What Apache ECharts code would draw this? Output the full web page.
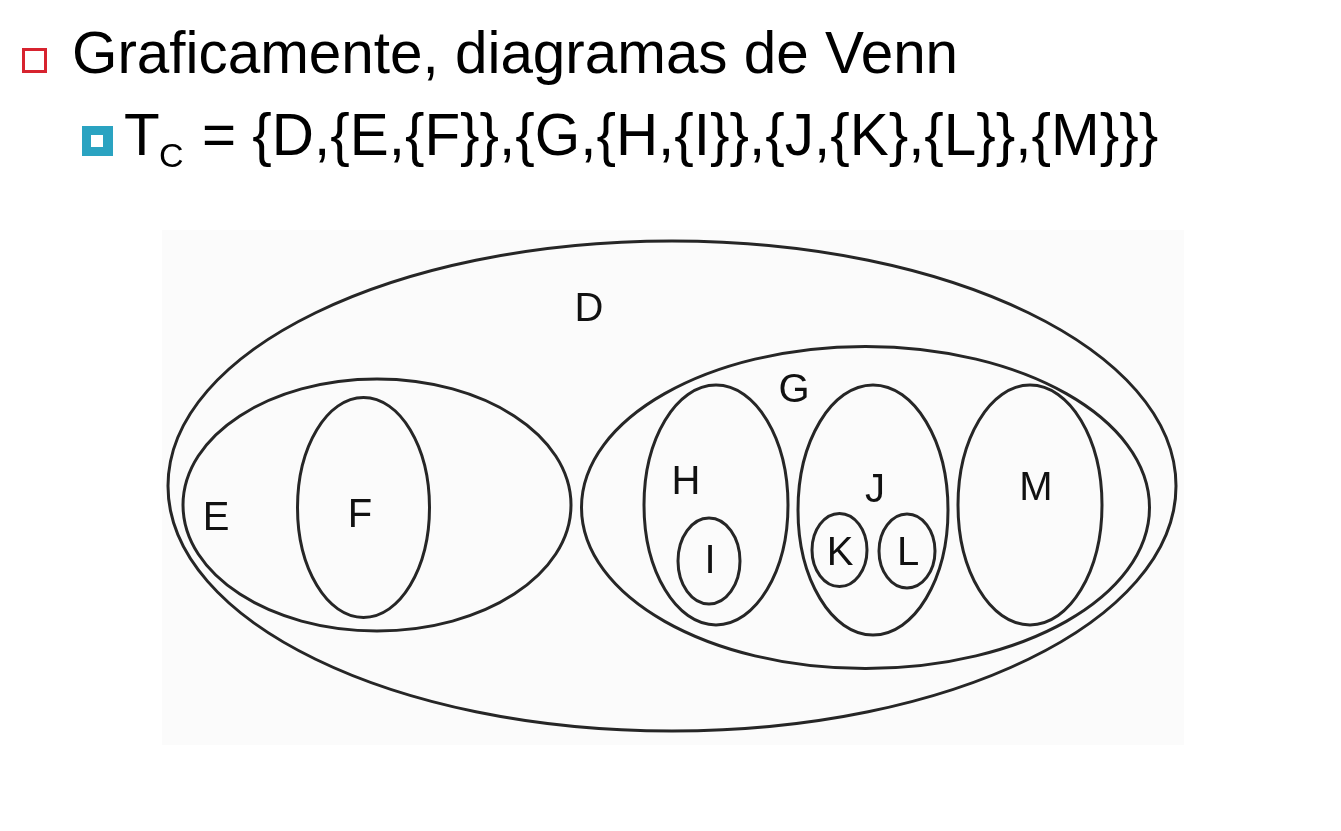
<!DOCTYPE html>
<html>
<head>
<meta charset="utf-8">
<title>Diagramas de Venn</title>
<script src="https://cdn.jsdelivr.net/npm/echarts@6/dist/echarts.min.js"></script>
<style>
  html, body { margin: 0; padding: 0; background: #fff; }
  #main { width: 1341px; height: 831px; }
</style>
</head>
<body>
<div id="main"></div>
<script>
// conjuntos del diagrama, en unidades del recuadro (0..1022 x 0..515)
var setNames = ['D', 'E', 'F', 'G', 'H', 'I', 'J', 'K', 'L', 'M'];
var centerX = [510, 215, 201.5, 703.5, 554, 547, 711, 677.5, 745, 868];
var centerY = [256, 275, 277.5, 277.5, 275, 331, 280, 320, 321, 275];
var radiusX = [504, 194, 66, 284, 72, 31, 75, 27.5, 28, 72];
var radiusY = [245, 126, 110, 161, 120, 43, 125, 36.5, 37, 120];
var labelX = [427, 54, 198, 632, 524, 548, 713, 678, 746, 874];
var labelY = [80, 289, 286, 161, 253, 332, 261, 324, 324, 259];

var font = '"Liberation Sans", Arial, Helvetica, sans-serif';

var seriesData = [];
for (var i = 0; i < setNames.length; i++) {
    seriesData.push({
        name: setNames[i],
        value: [centerX[i], centerY[i], radiusX[i] * 2, radiusY[i] * 2, labelX[i], labelY[i]]
    });
}

var chart = echarts.init(document.getElementById('main'));

var option = {
    animation: false,
    grid: {
        left: 162,
        top: 230,
        width: 1022,
        height: 515,
        show: true,
        backgroundColor: '#fbfbfb',
        borderWidth: 0
    },
    xAxis: { type: 'value', min: 0, max: 1022, show: false },
    yAxis: { type: 'value', min: 0, max: 515, inverse: true, show: false },
    graphic: [
        // viñeta roja
        { type: 'rect', shape: { x: 23.5, y: 49.5, width: 22, height: 22 },
          style: { fill: 'none', stroke: '#d7232f', lineWidth: 3 } },
        { type: 'text', x: 72, y: 57,
          style: { text: 'Graficamente, diagramas de Venn', fontSize: 58.4, fontFamily: font,
                   fill: '#000', verticalAlign: 'middle' } },
        // viñeta azul
        { type: 'rect', shape: { x: 82, y: 126, width: 31, height: 30 }, style: { fill: '#2aa3c1' } },
        { type: 'rect', shape: { x: 91, y: 135, width: 12, height: 12 }, style: { fill: '#fff' } },
        { type: 'text', x: 124, y: 139,
          style: { text: 'T', fontSize: 58.4, fontFamily: font, fill: '#000', verticalAlign: 'middle' } },
        { type: 'text', x: 159, y: 158,
          style: { text: 'C', fontSize: 34, fontFamily: font, fill: '#000', verticalAlign: 'middle' } },
        { type: 'text', x: 202, y: 139,
          style: { text: '= {D,{E,{F}},{G,{H,{I}},{J,{K},{L}},{M}}}', fontSize: 58.4, fontFamily: font,
                   fill: '#000', verticalAlign: 'middle' } }
    ],
    series: [{
        type: 'custom',
        silent: true,
        coordinateSystem: 'cartesian2d',
        encode: { x: 0, y: 1 },
        data: seriesData,
        renderItem: function (params, api) {
            var c = api.coord([api.value(0), api.value(1)]);
            var s = api.size([api.value(2), api.value(3)]);
            var t = api.coord([api.value(4), api.value(5)]);
            return {
                type: 'group',
                children: [
                    {
                        type: 'ellipse',
                        shape: { cx: c[0], cy: c[1], rx: s[0] / 2, ry: s[1] / 2 },
                        style: { fill: 'none', stroke: '#262626', lineWidth: 3 }
                    },
                    {
                        type: 'text',
                        x: t[0],
                        y: t[1],
                        style: {
                            text: setNames[params.dataIndex],
                            fontSize: 40,
                            fontFamily: font,
                            fill: '#111',
                            align: 'center',
                            verticalAlign: 'middle'
                        }
                    }
                ]
            };
        }
    }]
};

chart.setOption(option);
</script>
</body>
</html>
